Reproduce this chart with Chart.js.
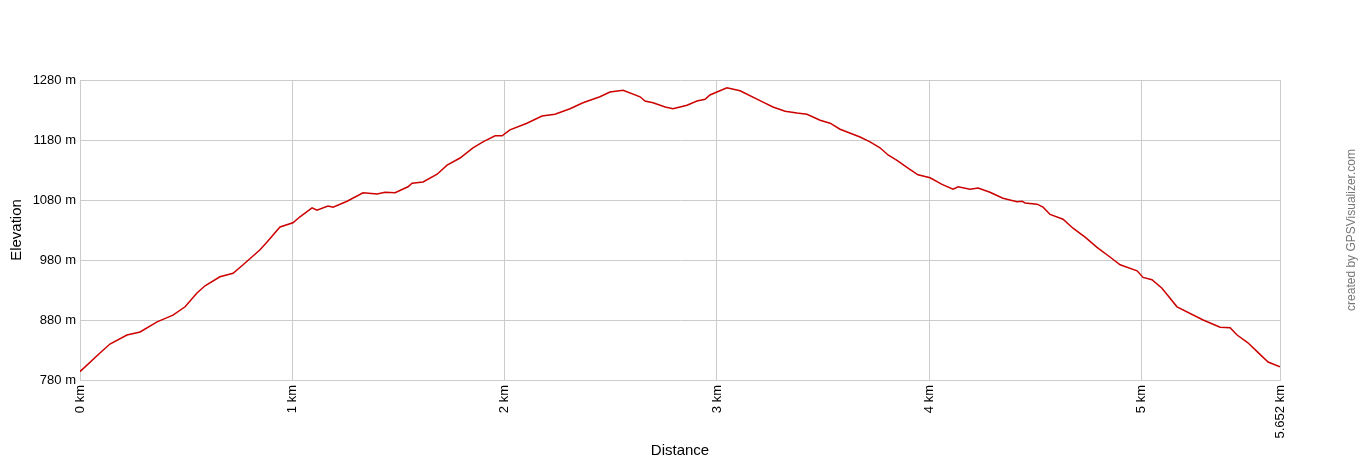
<!DOCTYPE html>
<html>
<head>
<meta charset="utf-8">
<script src="https://cdn.jsdelivr.net/npm/chart.js@4"></script>
<style>
  html, body { margin: 0; padding: 0; background: #fff; }
  #wrap { width: 1360px; height: 460px; }
</style>
</head>
<body>
<div id="wrap"><canvas id="profile"></canvas></div>
<script>
// distance along track (km)
const distances = [
    0, 0.094, 0.141, 0.221, 0.283, 0.363, 0.438, 0.495, 0.551, 0.589,
    0.659, 0.721, 0.768, 0.848, 0.881, 0.942, 1.003, 1.036, 1.093, 1.116,
    1.168, 1.192, 1.258, 1.333, 1.399, 1.437, 1.484, 1.545, 1.564, 1.616,
    1.682, 1.729, 1.790, 1.851, 1.898, 1.955, 1.988, 2.025, 2.105, 2.176,
    2.237, 2.308, 2.369, 2.449, 2.496, 2.558, 2.638, 2.661, 2.699, 2.756,
    2.793, 2.859, 2.906, 2.944, 2.967, 3.047, 3.109, 3.217, 3.264, 3.321,
    3.377, 3.424, 3.486, 3.533, 3.580, 3.674, 3.721, 3.768, 3.806, 3.848,
    3.900, 3.947, 4.004, 4.060, 4.112, 4.136, 4.192, 4.230, 4.286, 4.347,
    4.413, 4.437, 4.451, 4.508, 4.536, 4.569, 4.630, 4.677, 4.734, 4.790,
    4.851, 4.899, 4.979, 5.007, 5.049, 5.096, 5.167, 5.290, 5.370, 5.417,
    5.450, 5.501, 5.548, 5.596, 5.652
];

// elevation (m)
const elevations = [
    794, 825, 840, 855, 860, 877, 888, 902, 925, 937,
    952, 958, 972, 997, 1010, 1035, 1042, 1052, 1067, 1063,
    1070, 1068, 1078, 1092, 1090, 1093, 1092, 1102, 1108, 1110,
    1123, 1138, 1150, 1167, 1177, 1187, 1187, 1197, 1208, 1220,
    1223, 1232, 1242, 1252, 1260, 1263, 1252, 1245, 1242, 1235,
    1232, 1238, 1245, 1248, 1255, 1267, 1262, 1243, 1235, 1228,
    1225, 1223, 1213, 1208, 1198, 1185, 1177, 1167, 1155, 1146,
    1133, 1122, 1117, 1106, 1098, 1102, 1098, 1100, 1093, 1083,
    1077, 1078, 1075, 1073, 1068, 1056, 1048, 1033, 1018, 1001,
    985, 972, 962, 951, 947, 933, 902, 880, 868, 867,
    855, 842, 826, 810, 802
];

const xTicks = [0, 1, 2, 3, 4, 5, 5.652];
const yTicks = [780, 880, 980, 1080, 1180, 1280];

const points = distances.map((d, i) => ({ x: d, y: elevations[i] }));

const credit = {
    id: 'credit',
    afterDraw(chart) {
        const ctx = chart.ctx;
        ctx.save();
        ctx.translate(1352, 230);
        ctx.rotate(-Math.PI / 2);
        ctx.fillStyle = '#777777';
        ctx.font = '12px "Liberation Sans", Arial, sans-serif';
        ctx.textAlign = 'center';
        ctx.textBaseline = 'middle';
        ctx.fillText('created by GPSVisualizer.com', 0, 0);
        ctx.restore();
    }
};

Chart.defaults.font.family = '"Liberation Sans", Arial, sans-serif';
Chart.defaults.color = '#000000';

new Chart(document.getElementById('profile'), {
    type: 'line',
    data: {
        datasets: [{
            data: points,
            borderColor: '#cc0000',
            borderWidth: 1.5,
            pointRadius: 0,
            tension: 0,
            fill: false
        }]
    },
    options: {
        responsive: true,
        maintainAspectRatio: false,
        animation: false,
        layout: { padding: { left: 0, right: 80, top: 80, bottom: 0 } },
        plugins: {
            legend: { display: false },
            tooltip: { enabled: false }
        },
        scales: {
            x: {
                type: 'linear',
                min: 0,
                max: 5.652,
                afterBuildTicks: (axis) => { axis.ticks = xTicks.map(v => ({ value: v })); },
                afterFit: (axis) => { axis.height = 80; },
                ticks: {
                    autoSkip: false,
                    minRotation: 90,
                    maxRotation: 90,
                    padding: 5,
                    font: { size: 13 },
                    callback: (v) => v + ' km'
                },
                grid: { color: '#cccccc', drawTicks: false },
                border: { color: '#cccccc' },
                title: {
                    display: true,
                    text: 'Distance',
                    font: { size: 15 },
                    padding: { top: 4, bottom: 0 }
                }
            },
            y: {
                min: 780,
                max: 1280,
                afterBuildTicks: (axis) => { axis.ticks = yTicks.map(v => ({ value: v })); },
                afterFit: (axis) => { axis.width = 80; },
                ticks: {
                    padding: 4,
                    font: { size: 13 },
                    callback: (v) => v + ' m'
                },
                grid: { color: '#cccccc', drawTicks: false },
                border: { color: '#cccccc' },
                title: {
                    display: true,
                    text: 'Elevation',
                    font: { size: 15 },
                    padding: { top: 8, bottom: 0 }
                }
            }
        }
    },
    plugins: [credit]
});
</script>
</body>
</html>
